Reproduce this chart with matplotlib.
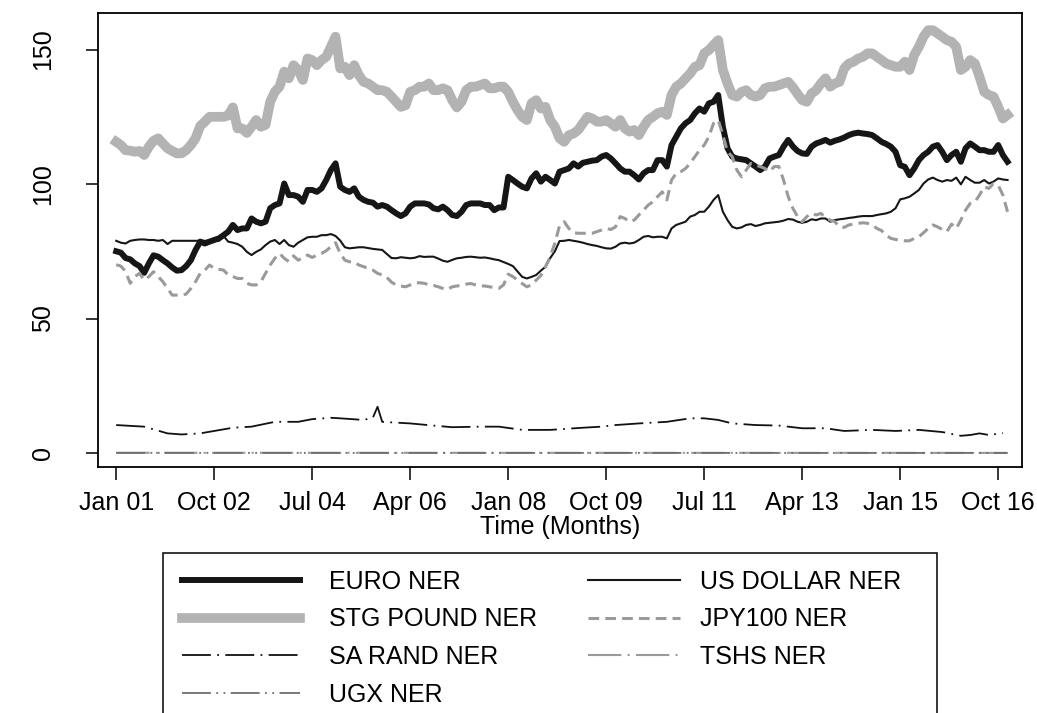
import numpy as np
import matplotlib
matplotlib.use('Agg')
import matplotlib.pyplot as plt
from matplotlib.patches import Rectangle

plt.rcParams['font.family'] = ['Liberation Sans', 'DejaVu Sans']
plt.rcParams['font.size'] = 18

# monthly nominal exchange rates, Jan 2001 - Dec 2016
euro = [75.0, 74.5, 72.5, 72.0, 70.5, 69.5, 67.0, 70.5, 73.5, 73.0, 71.7, 70.5,
        69.0, 67.8, 68.0, 69.5, 71.7, 75.5, 78.6, 77.9, 78.6, 79.2, 79.8, 81.0,
        82.3, 84.8, 82.9, 83.5, 83.5, 87.2, 86.0, 85.4, 86.0, 91.0, 92.2, 92.8,
        100.2, 95.9, 95.9, 95.3, 93.4, 97.8, 97.8, 97.1, 98.4, 101.5, 105.2, 107.7,
        99.0, 97.8, 97.1, 98.4, 95.3, 94.1, 93.4, 93.1, 91.6, 92.2, 91.6, 90.3,
        89.1, 88.1, 89.1, 91.6, 92.8, 92.8, 92.8, 92.4, 91.0, 90.6, 91.6, 90.3,
        88.5, 88.1, 89.7, 92.2, 92.8, 92.8, 92.8, 92.2, 92.2, 90.3, 91.3, 91.3,
        102.7, 101.5, 100.2, 99.0, 98.4, 102.1, 104.0, 100.9, 102.7, 101.5, 100.2, 104.6,
        105.2, 105.8, 107.7, 106.5, 107.9, 108.3, 108.7, 108.9, 110.2, 110.8, 109.5, 107.7,
        105.8, 104.6, 104.6, 103.3, 101.7, 104.0, 105.2, 105.2, 108.9, 108.9, 106.5, 114.5,
        117.6, 120.7, 122.6, 123.8, 126.3, 128.1, 126.9, 130.0, 130.6, 133.1, 121.3, 113.3,
        110.2, 109.5, 109.2, 108.9, 107.7, 106.5, 105.2, 106.5, 109.5, 110.2, 110.8, 113.9,
        116.4, 114.0, 112.3, 111.4, 111.2, 113.9, 115.1, 115.7, 116.4, 115.4, 116.1, 116.6,
        117.3, 118.2, 118.8, 119.1, 118.8, 118.6, 118.2, 117.0, 115.7, 114.9, 113.9, 112.0,
        107.0, 106.4, 103.3, 105.8, 108.9, 110.8, 112.0, 113.9, 114.5, 112.0, 108.9, 110.8,
        112.0, 108.3, 113.3, 115.1, 113.9, 112.6, 112.6, 112.0, 112.0, 114.5, 110.8, 108.3]

stg = [115.7, 114.5, 112.6, 112.4, 112.0, 112.3, 110.8, 113.9, 116.1, 117.0, 115.1, 113.3,
       112.3, 111.4, 111.4, 112.6, 114.5, 117.0, 121.6, 123.2, 125.0, 125.0, 125.0, 125.0,
       125.5, 128.5, 120.7, 120.7, 119.0, 121.3, 123.8, 121.3, 122.0, 130.6, 134.3, 136.2,
       141.8, 139.3, 144.2, 142.4, 138.7, 146.7, 146.1, 144.2, 146.1, 147.3, 151.0, 154.8,
       143.0, 143.6, 140.5, 144.2, 140.5, 138.0, 137.4, 136.2, 134.9, 134.9, 134.3, 132.5,
       130.6, 128.7, 129.3, 134.3, 134.9, 136.2, 136.2, 137.4, 134.9, 134.9, 135.6, 134.9,
       131.2, 128.5, 130.6, 134.9, 136.2, 136.2, 136.8, 137.4, 135.6, 135.6, 136.2, 136.2,
       134.3, 130.6, 127.5, 125.0, 123.8, 130.0, 131.2, 128.1, 128.7, 123.8, 121.3, 117.0,
       115.7, 118.2, 118.8, 120.1, 122.6, 125.0, 124.4, 123.2, 123.2, 123.8, 122.6, 121.3,
       123.8, 120.7, 119.5, 120.1, 118.2, 121.3, 123.8, 125.0, 126.3, 126.9, 125.7, 133.1,
       136.2, 137.4, 139.3, 141.1, 143.6, 144.2, 148.6, 149.8, 151.7, 153.5, 142.4, 137.4,
       133.1, 132.5, 134.3, 134.9, 133.1, 132.5, 133.1, 135.6, 136.2, 136.2, 136.8, 137.4,
       138.0, 136.0, 133.5, 131.2, 130.6, 133.7, 134.9, 137.4, 139.3, 136.2, 137.4, 138.0,
       143.0, 144.8, 145.5, 146.7, 147.3, 148.6, 148.6, 147.3, 146.1, 144.8, 144.2, 143.6,
       143.6, 145.5, 142.4, 148.0, 151.0, 154.8, 157.2, 157.2, 156.0, 154.8, 153.5, 152.9,
       151.0, 142.4, 143.6, 146.1, 144.8, 139.9, 134.3, 133.1, 132.5, 128.7, 124.4, 125.7]

usd = [78.9, 78.2, 77.9, 78.9, 79.2, 79.4, 79.4, 79.2, 79.2, 78.9, 79.2, 77.7,
       78.9, 78.9, 78.9, 78.9, 78.9, 78.9, 78.9, 78.9, 78.9, 78.9, 78.9, 80.7,
       78.6, 78.2, 77.7, 76.7, 74.8, 73.6, 74.8, 75.7, 77.3, 78.6, 79.2, 77.7,
       79.2, 77.3, 76.7, 78.2, 79.2, 80.2, 80.4, 80.4, 81.0, 81.0, 81.4, 80.7,
       79.0, 76.5, 76.1, 76.3, 76.5, 76.5, 76.2, 75.9, 75.7, 75.5, 74.0, 72.5,
       72.4, 72.8, 72.6, 72.4, 72.6, 73.2, 72.9, 73.0, 73.0, 72.3, 71.5, 71.1,
       71.8, 72.4, 72.6, 72.9, 73.0, 72.8, 72.6, 72.7, 72.4, 72.0, 71.7, 71.0,
       70.3, 69.5, 67.5, 65.5, 64.9, 65.5, 66.2, 67.8, 69.3, 72.5, 75.0, 78.8,
       78.9, 79.2, 78.9, 78.6, 78.2, 77.7, 77.3, 77.0, 76.5, 76.1, 76.0, 76.7,
       77.9, 78.2, 77.9, 78.2, 79.2, 80.4, 80.7, 80.2, 80.4, 80.4, 79.8, 83.5,
       84.8, 85.4, 86.0, 87.9, 88.5, 89.7, 89.7, 91.6, 94.1, 95.9, 89.7, 86.6,
       84.1, 83.5, 83.9, 84.8, 85.1, 84.4, 84.8, 85.4, 85.6, 85.8, 86.0, 86.4,
       87.0, 86.8, 86.0, 85.6, 86.0, 86.9, 86.6, 87.2, 87.2, 86.0, 86.6, 86.9,
       87.1, 87.4, 87.6, 87.9, 88.1, 88.1, 88.1, 88.5, 88.8, 89.1, 89.7, 91.0,
       94.3, 94.7, 95.3, 96.5, 97.8, 100.2, 101.7, 102.4, 101.5, 100.9, 101.5, 101.2,
       102.4, 99.9, 102.7, 101.5, 100.5, 100.5, 101.5, 100.2, 100.9, 102.1, 101.7, 101.5]

jpy = [70.0, 69.5, 67.5, 63.1, 65.6, 66.8, 64.3, 65.6, 67.4, 65.6, 63.7, 61.2,
       58.7, 58.7, 58.7, 59.1, 61.2, 63.7, 66.8, 68.0, 69.9, 68.6, 68.3, 68.0,
       66.2, 65.6, 64.9, 64.9, 63.1, 62.5, 62.5, 63.7, 66.8, 69.9, 72.4, 74.2,
       72.4, 71.2, 73.3, 71.7, 72.7, 73.6, 72.7, 73.6, 74.2, 75.2, 76.7, 78.2,
       74.2, 71.7, 71.1, 71.0, 69.9, 69.3, 68.6, 68.0, 66.8, 66.2, 65.3, 63.5,
       62.5, 62.1, 61.8, 62.5, 63.3, 63.3, 63.1, 62.5, 62.3, 61.8, 61.2, 60.8,
       61.8, 62.1, 62.3, 62.8, 63.0, 62.5, 62.1, 62.1, 61.8, 61.5, 61.2, 62.5,
       66.5, 65.6, 64.3, 63.0, 61.8, 62.5, 64.3, 66.0, 69.3, 73.0, 78.0, 84.5,
       86.0, 83.5, 81.9, 81.7, 81.7, 81.7, 81.7, 82.3, 82.9, 83.5, 83.1, 84.1,
       87.9, 87.2, 86.0, 86.6, 88.5, 90.3, 92.2, 93.4, 95.3, 97.1, 94.1, 101.5,
       104.0, 104.6, 105.8, 107.7, 110.2, 112.6, 114.5, 117.6, 122.6, 123.8, 118.2, 112.0,
       110.2, 105.2, 102.7, 105.2, 107.7, 107.1, 106.5, 105.8, 104.6, 106.5, 106.5, 101.5,
       95.3, 91.0, 87.9, 86.0, 87.9, 89.1, 88.5, 89.1, 87.6, 86.6, 86.0, 84.1,
       83.9, 84.8, 85.1, 85.4, 85.6, 85.4, 84.8, 83.5, 82.7, 81.0, 79.8, 79.4,
       79.2, 78.9, 78.9, 79.8, 80.4, 81.9, 83.5, 84.8, 84.1, 83.1, 82.3, 85.1,
       83.5, 86.6, 90.3, 92.8, 93.4, 95.9, 99.0, 98.4, 100.2, 99.6, 95.9, 89.7]

# SA rand read at selected months
rand_months = [0, 6, 11, 14, 18, 21, 25, 29, 34, 39, 42, 46, 48, 53, 55, 56, 57, 63, 68,
               72, 78, 82, 87, 93, 100, 104, 107, 112, 118, 123, 126, 129, 132, 137, 142,
               147, 152, 156, 162, 167, 172, 177, 181, 183, 185, 187, 190]
rand_vals = [10.4, 9.8, 7.3, 6.9, 7.3, 8.2, 9.4, 9.8, 11.6, 11.6, 12.6, 13.1, 12.9, 12.3, 13.1,
             17.2, 11.6, 11.0, 10.2, 9.6, 9.8, 9.8, 8.6, 8.6, 9.4, 9.8, 10.4, 11.0, 11.6, 12.9,
             12.9, 12.3, 11.0, 10.4, 10.2, 9.2, 9.2, 8.2, 8.6, 8.2, 8.6, 7.8, 6.4, 6.7, 7.3,
             6.7, 7.4]

small_months = [0, 48, 96, 144, 191]
tshs_vals = [0.09, 0.08, 0.07, 0.06, 0.05]
ugx_vals = [0.05, 0.04, 0.04, 0.03, 0.03]

tick_pos = [0, 21, 42, 63, 84, 105, 126, 147, 168, 189]
tick_labels = ['Jan 01', 'Oct 02', 'Jul 04', 'Apr 06', 'Jan 08', 'Oct 09',
               'Jul 11', 'Apr 13', 'Jan 15', 'Oct 16']

months = np.arange(len(euro))

W, H = 1037, 713
fig = plt.figure(figsize=(W / 100, H / 100), dpi=100)
ax = fig.add_axes([98 / W, 1 - 467 / H, (1022 - 98) / W, (467 - 13) / H])

l_euro, = ax.plot(months, euro, color='#161616', lw=4.3, solid_joinstyle='round', label='EURO NER')
l_stg, = ax.plot(months, stg, color='#b3b3b3', lw=7.0, solid_joinstyle='round', label='STG POUND NER')
l_usd, = ax.plot(months, usd, color='#161616', lw=1.5, label='US DOLLAR NER')
l_jpy, = ax.plot(months, jpy, color='#9a9a9a', lw=2.2, dashes=(3.5, 2.0), label='JPY100 NER')
l_rand, = ax.plot(rand_months, rand_vals, color='#111111', lw=1.3, dashes=(16, 3.5, 1, 3.5), label='SA RAND NER')
l_tshs, = ax.plot(small_months, tshs_vals, color='#9a9a9a', lw=1.5, dashes=(16, 3, 1, 3), label='TSHS NER')
l_ugx, = ax.plot(small_months, ugx_vals, color='#6e6e6e', lw=1.3, dashes=(16, 3, 1, 3, 1, 3), label='UGX NER')

ax.set_xlim(-3.9, 194.1)
ax.set_ylim(-5.2, 163.6)
ax.set_xticks(tick_pos)
ax.set_xticklabels(tick_labels)
ax.set_yticks([0, 50, 100, 150])
ax.set_yticklabels(['0', '50', '100', '150'], rotation=90, va='center')
ax.tick_params(direction='out', width=1.1)
ax.tick_params(axis='x', length=9, pad=8)
ax.tick_params(axis='y', length=9, pad=22)
ax.set_xlabel('Time (Months)', labelpad=0)
for s in ax.spines.values():
    s.set_linewidth(1.3)

# legend: two columns with their own key lengths, one box round both
top = 1 - 570 / H
leg_kw = dict(loc='upper left', frameon=False, borderpad=0, borderaxespad=0,
              labelspacing=0.54)
col1 = [l_euro, l_stg, l_rand, l_ugx]
col2 = [l_usd, l_jpy, l_tshs]
fig.legend(handles=col1, labels=[h.get_label() for h in col1],
           bbox_to_anchor=(182 / W, top), handlelength=4.72, handletextpad=1.16, **leg_kw)
fig.legend(handles=col2, labels=[h.get_label() for h in col2],
           bbox_to_anchor=(588 / W, top), handlelength=3.68, handletextpad=0.8, **leg_kw)
fig.patches.append(Rectangle((163 / W, -0.02), (937 - 163) / W, 0.02 + (713 - 553) / H,
                             transform=fig.transFigure, fill=False, ec='black', lw=1.1))

fig.savefig('out.png', dpi=100)
